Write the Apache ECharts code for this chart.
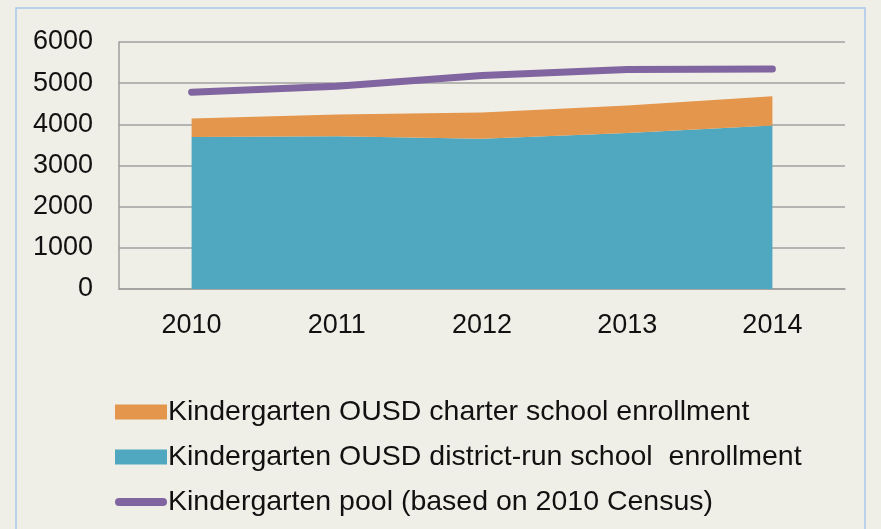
<!DOCTYPE html>
<html>
<head>
<meta charset="utf-8">
<script src="https://cdn.jsdelivr.net/npm/echarts@6/dist/echarts.min.js"></script>
<style>
html,body{margin:0;padding:0;background:#F0EFE7;}
#c{width:881px;height:529px;}
</style>
</head>
<body>
<div id="c"></div>
<script>
var years = ['2010', '2011', '2012', '2013', '2014'];
var districtRun = [3695, 3710, 3650, 3790, 3970];
var charter = [445, 530, 640, 670, 710];
var pool = [4780, 4925, 5185, 5330, 5345];
var yTicks = [0, 1000, 2000, 3000, 4000, 5000, 6000];

var names = {
  charter: 'Kindergarten OUSD charter school enrollment',
  district: 'Kindergarten OUSD district-run school  enrollment',
  pool: 'Kindergarten pool (based on 2010 Census)'
};
var FONT = 'Liberation Sans';
var chart = echarts.init(document.getElementById('c'), null, {renderer: 'canvas'});
chart.setOption({
  backgroundColor: '#F0EFE7',
  animation: false,
  graphic: [{
    type: 'rect', silent: true,
    shape: {x: 16, y: 8, width: 849, height: 540},
    style: {fill: 'none', stroke: '#A9C6EC', lineWidth: 1.5}
  }],
  grid: {left: 119, right: 36, top: 42, bottom: 240},
  legend: {
    orient: 'vertical', left: 110, top: 392,
    itemWidth: 52, itemHeight: 15, itemGap: 15,
    textStyle: {fontFamily: FONT, fontSize: 28.5, color: '#111', lineHeight: 30, padding: [0, 0, 0, -4]},
    data: [
      {name: names.charter, icon: 'rect'},
      {name: names.district, icon: 'rect'},
      {name: names.pool, icon: 'path://M4,0 L48,0 A4,4 0 0 1 48,8 L4,8 A4,4 0 0 1 4,0 Z'}
    ]
  },
  xAxis: {
    type: 'category', data: years, boundaryGap: true,
    axisLine: {show: true, lineStyle: {color: '#9E9E9E', width: 1.5}},
    axisTick: {show: false},
    axisLabel: {fontFamily: FONT, fontSize: 27, color: '#111', margin: 23}
  },
  yAxis: {
    type: 'value', min: yTicks[0], max: yTicks[yTicks.length - 1], interval: 1000,
    axisLine: {show: true, lineStyle: {color: '#9E9E9E', width: 1.5}},
    axisTick: {show: false},
    axisLabel: {fontFamily: FONT, fontSize: 27, color: '#111', margin: 26,
      formatter: function (v) { return String(v); }},
    splitLine: {lineStyle: {color: '#A0A0A0', width: 1.5}}
  },
  series: [
    {
      name: names.district, type: 'line', stack: 'enr', data: districtRun,
      symbol: 'none', lineStyle: {width: 0}, areaStyle: {color: '#4FA8BF', opacity: 1},
      itemStyle: {color: '#4FA8BF'}
    },
    {
      name: names.charter, type: 'line', stack: 'enr', data: charter,
      symbol: 'none', lineStyle: {width: 0}, areaStyle: {color: '#E3964C', opacity: 1},
      itemStyle: {color: '#E3964C'}
    },
    {
      name: names.pool, type: 'line', data: pool,
      symbol: 'none', lineStyle: {width: 7, color: '#8165A0', cap: 'round'},
      itemStyle: {color: '#8165A0'}
    }
  ]
});
</script>
</body>
</html>
